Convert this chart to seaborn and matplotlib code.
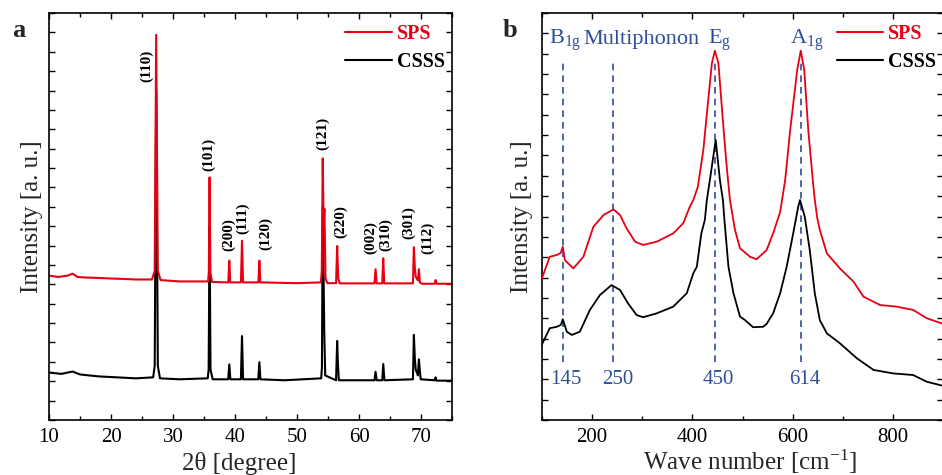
import matplotlib
matplotlib.use("Agg")
import matplotlib.pyplot as plt
import seaborn as sns
from matplotlib.lines import Line2D
from matplotlib.ticker import MultipleLocator, NullFormatter

# ---------------- XRD (panel a) ----------------
xrd_2theta_sps = [10, 11.5, 13, 13.8, 14.6, 16, 18, 20, 22, 24, 26.6,
                  27.05, 27.29, 27.55, 28.0, 31, 35.65, 35.78, 35.9, 36.03, 36.3,
                  38.92, 39.08, 39.24, 40.96, 41.13, 41.3, 43.77, 43.93, 44.09,
                  47, 50, 53.85, 54.0, 54.15, 54.3, 54.42, 54.6, 54.9,
                  56.3, 56.48, 56.65, 56.9, 60, 62.5, 62.67, 62.85, 63.75, 63.91, 64.07,
                  66, 68.7, 68.85, 69.0, 69.15, 69.5, 69.66, 69.82, 70.2, 72.2, 72.36, 72.52, 75]
xrd_int_sps = [7.45, 7.38, 7.45, 7.55, 7.38, 7.35, 7.33, 7.30, 7.28, 7.25, 7.25,
               7.7, 19.87, 7.7, 7.22, 7.15, 7.15, 7.6, 12.52, 7.6, 7.12,
               7.1, 8.22, 7.1, 7.1, 9.25, 7.1, 7.1, 8.22, 7.1,
               7.08, 7.06, 7.1, 7.7, 13.5, 10.0, 10.9, 7.3, 7.06,
               7.06, 8.98, 7.3, 7.05, 7.05, 7.05, 7.78, 7.05, 7.05, 8.34, 7.05,
               7.05, 7.05, 8.91, 7.9, 7.4, 7.2, 7.78, 7.1, 7.03, 7.03, 7.22, 7.03, 7.03]

xrd_2theta_csss = [10, 12, 13.8, 15, 18, 21, 24, 26.8,
                   27.05, 27.29, 27.55, 27.9, 31, 35.6, 35.75, 35.9, 36.05, 36.4,
                   38.9, 39.08, 39.25, 40.95, 41.13, 41.3, 43.75, 43.93, 44.1,
                   48, 53.9, 54.02, 54.15, 54.4, 54.55, 56.3, 56.48, 56.6, 56.75,
                   62.5, 62.67, 62.85, 63.75, 63.91, 64.1, 68.7, 68.85, 69.0, 69.15,
                   69.5, 69.66, 69.8, 69.95, 72.2, 72.36, 72.5, 75]
xrd_int_csss = [2.45, 2.38, 2.5, 2.35, 2.25, 2.2, 2.15, 2.2,
                2.8, 17.0, 2.8, 2.15, 2.1, 2.15, 2.6, 10.0, 2.6, 2.1,
                2.1, 2.87, 2.1, 2.1, 4.33, 2.1, 2.1, 2.98, 2.1,
                2.05, 2.15, 2.7, 11.0, 4.5, 2.3, 2.05, 4.08, 2.9, 2.05,
                2.05, 2.49, 2.05, 2.05, 2.89, 2.05, 2.1, 4.39, 3.2, 2.6,
                2.3, 3.13, 2.6, 2.1, 2.05, 2.2, 2.03, 2.03]

xrd_labels = ["(110)", "(101)", "(200)", "(111)", "(120)", "(121)",
              "(220)", "(002)", "(310)", "(301)", "(112)"]
xrd_label_x = [25.78, 35.74, 38.97, 41.29, 44.9, 54.06, 57.01, 61.86, 64.28, 68.05, 71.02]
xrd_label_y = [18.28, 13.72, 9.55, 10.42, 9.63, 14.79, 10.23, 9.42, 9.55, 10.19, 9.42]

# ---------------- Raman (panel b) ----------------
raman_wn_sps = [100, 116, 130, 138, 142, 146, 163, 183, 203, 223, 243, 256, 269, 286, 302,
                329, 362, 382, 395, 402, 411, 422, 430, 439, 445, 452, 460, 468, 475, 485, 495,
                515, 528, 548, 561, 575, 585, 595, 609, 616, 623, 631, 640, 644, 649, 654,
                668, 694, 721, 741, 774, 807, 840, 867, 893, 900]
raman_int_sps = [6.93, 8.02, 8.11, 8.21, 8.52, 7.86, 7.45, 8.02, 9.50, 10.07, 10.35, 10.07, 9.42, 8.76, 8.60,
                 8.76, 9.17, 9.67, 10.48, 10.81, 11.45, 13.27, 15.30, 17.53, 18.15, 17.53, 15.00, 12.60, 10.81, 9.34, 8.44,
                 8.02, 7.90, 8.35, 9.17, 10.22, 11.79, 14.25, 17.20, 18.15, 17.20, 14.25, 11.79, 10.81, 9.91, 9.34,
                 8.19, 7.45, 6.80, 6.06, 5.65, 5.57, 5.41, 5.00, 4.78, 4.72]

raman_wn_csss = [100, 116, 130, 138, 142, 150, 160, 176, 196, 216, 239, 256, 272, 289, 302,
                 329, 362, 389, 402, 409, 418, 425, 429, 435, 446.6, 455, 461, 464, 472, 482,
                 495, 505, 521, 541, 548, 561, 575, 588, 601, 611, 614.5, 624, 634, 644, 654,
                 668, 694, 728, 761, 800, 840, 867, 893, 900]
raman_int_csss = [3.69, 4.51, 4.58, 4.67, 4.95, 4.34, 4.18, 4.34, 5.41, 6.14, 6.63, 6.39, 5.73, 5.16, 5.05,
                  5.24, 5.57, 6.23, 7.21, 7.53, 9.17, 9.83, 10.81, 11.79, 13.76, 11.79, 10.81, 9.83, 7.53, 6.23,
                  5.08, 4.91, 4.56, 4.58, 4.72, 5.24, 6.23, 7.53, 9.17, 10.48, 10.81, 9.99, 8.35, 6.23, 4.91,
                  4.26, 3.77, 3.03, 2.46, 2.29, 2.21, 1.88, 1.72, 1.67]

raman_modes = [r"B$_{\mathregular{1g}}$", "Multiphonon", r"E$_{\mathregular{g}}$", r"A$_{\mathregular{1g}}$"]
raman_mode_x = [146.5, 299, 455, 628]
raman_line_x = [142, 243, 445, 616]
raman_shift_labels = ["145", "250", "450", "614"]
raman_shift_x = [148, 251, 452, 624]

RED = "#E60012"
BLACK = "#000000"
BLUE = "#2F4D9C"

sns.set_theme(style="ticks")
plt.rcParams["font.family"] = ["Liberation Serif", "DejaVu Serif"]
plt.rcParams["mathtext.fontset"] = "custom"
plt.rcParams["mathtext.rm"] = "Liberation Serif"
plt.rcParams["mathtext.it"] = "Liberation Serif:italic"
plt.rcParams["axes.linewidth"] = 1.2

fig = plt.figure(figsize=(9.42, 4.75), dpi=100)
ax1 = fig.add_axes([49 / 942, 55 / 475, 403 / 942, 407 / 475])
ax2 = fig.add_axes([541.7 / 942, 55 / 475, 401.6 / 942, 407 / 475])

# panel a
sns.lineplot(x=xrd_2theta_csss, y=xrd_int_csss, ax=ax1, color=BLACK, linewidth=1.5,
             sort=False, estimator=None)
sns.lineplot(x=xrd_2theta_sps, y=xrd_int_sps, ax=ax1, color=RED, linewidth=1.5,
             sort=False, estimator=None)
for lab, lx, ly in zip(xrd_labels, xrd_label_x, xrd_label_y):
    ax1.text(lx, ly, lab, rotation=90, ha="center", va="center",
             fontsize=11, fontweight="bold", color="black")
ax1.set_xlim(10, 75)
ax1.set_ylim(0, 21)
ax1.xaxis.set_major_locator(MultipleLocator(10))
ax1.xaxis.set_minor_locator(MultipleLocator(5))
ax1.set_xlabel("2θ [degree]", fontsize=18, va="baseline")
ax1.xaxis.set_label_coords(0.471, -0.1229)
ax1.set_ylabel("Intensity [a. u.]", fontsize=18)
ax1.yaxis.set_label_coords(-0.015, 0.5)

# panel b
for x in raman_line_x:
    ax2.plot([x, x], [2.85, 17.7], color=BLUE, linestyle=(0, (4, 3)), linewidth=1.2, zorder=1)
sns.lineplot(x=raman_wn_sps, y=raman_int_sps, ax=ax2, color=RED, linewidth=1.3,
             sort=False, estimator=None, zorder=3)
sns.lineplot(x=raman_wn_csss, y=raman_int_csss, ax=ax2, color=BLACK, linewidth=1.3,
             sort=False, estimator=None, zorder=3)
for lab, lx in zip(raman_modes, raman_mode_x):
    ax2.text(lx, 18.48, lab, ha="center", va="baseline", fontsize=16, color=BLUE)
for lab, lx in zip(raman_shift_labels, raman_shift_x):
    ax2.text(lx, 1.77, lab, ha="center", va="baseline", fontsize=15, color=BLUE)
ax2.set_xlim(100, 900)
ax2.set_ylim(0, 20)
ax2.xaxis.set_major_locator(MultipleLocator(200))
ax2.xaxis.set_minor_locator(MultipleLocator(100))
ax2.set_xlabel(r"Wave number [cm$^{\mathregular{-1}}$]", fontsize=18, va="baseline")
ax2.xaxis.set_label_coords(0.519, -0.1229)
ax2.set_ylabel("Intensity [a. u.]", fontsize=18)
ax2.yaxis.set_label_coords(-0.021, 0.5)

for ax in (ax1, ax2):
    ax.yaxis.set_major_locator(MultipleLocator(1))
    ax.yaxis.set_major_formatter(NullFormatter())
    ax.tick_params(which="both", direction="in", top=True, right=True, width=1.0, colors="black")
    ax.tick_params(which="major", length=4.5, labelsize=15, pad=6)
    ax.tick_params(which="minor", length=3)
    for s in ax.spines.values():
        s.set_color("black")
    handles = [Line2D([], [], color=RED, linewidth=1.5), Line2D([], [], color=BLACK, linewidth=1.5)]
    leg = ax.legend(handles, ["SPS", "CSSS"], loc="upper left", bbox_to_anchor=(0.735, 0.973),
                    frameon=False, handlelength=2.3, handletextpad=0.25, labelspacing=0.38,
                    borderpad=0, borderaxespad=0, prop={"weight": "bold", "size": 14.5})
    leg.get_texts()[0].set_color(RED)
    leg.get_texts()[1].set_color(BLACK)

fig.text(12 / 942, 1 - 37 / 475, "a", fontsize=19, fontweight="bold", va="baseline")
fig.text(503 / 942, 1 - 37 / 475, "b", fontsize=19, fontweight="bold", va="baseline")

fig.savefig("out.png", dpi=100)
